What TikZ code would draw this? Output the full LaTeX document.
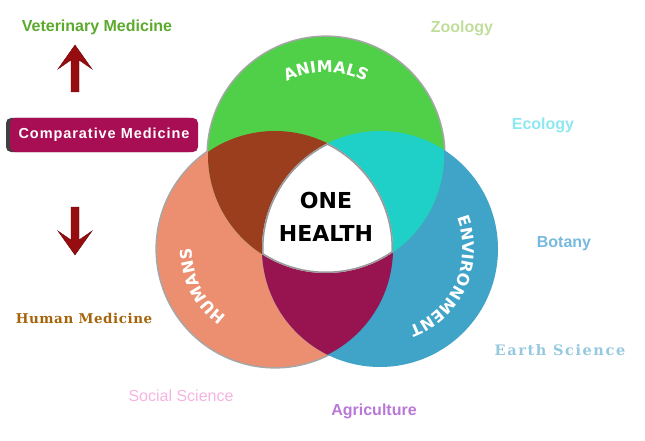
\documentclass[tikz,border=0pt]{standalone}
\usepackage{fontspec}
\setmainfont{Liberation Sans}
\newfontfamily\openS{DejaVu Sans}
\newfontfamily\serifD{DejaVu Serif}
\usetikzlibrary{decorations.text}
\definecolor{ani}{RGB}{80,208,72}
\definecolor{hum}{RGB}{235,143,112}
\definecolor{env}{RGB}{64,163,200}
\definecolor{ah}{RGB}{155,62,30}
\definecolor{ae}{RGB}{30,208,200}
\definecolor{he}{RGB}{152,20,80}
\definecolor{crim}{RGB}{168,14,84}
\definecolor{arrowred}{RGB}{150,12,15}
\definecolor{vetc}{RGB}{92,170,45}
\definecolor{zooc}{RGB}{192,222,155}
\definecolor{ecoc}{RGB}{140,232,240}
\definecolor{botc}{RGB}{120,185,222}
\definecolor{earc}{RGB}{150,200,222}
\definecolor{socc}{RGB}{245,180,225}
\definecolor{agrc}{RGB}{185,120,215}
\definecolor{hmc}{RGB}{165,100,10}
\tikzset{
  lbl/.style={anchor=base, inner sep=0pt, font=\fontsize{16}{16}\selectfont\bfseries},
  slbl/.style={anchor=base, inner sep=0pt, font=\serifD\bfseries\fontsize{14}{14}\selectfont},
  bigtxt/.style={anchor=base, inner sep=0pt, font=\openS\bfseries\fontsize{22}{22}\selectfont},
  arrowshape/.style={fill=arrowred, draw=arrowred!70!black, line width=0.4pt},
  circtext/.style={decorate, decoration={text along path, text color=white, text align=center,
     text={|\openS\bfseries\fontsize{16}{16}\selectfont|#1}}}
}
\begin{document}
\begin{tikzpicture}[x=1pt,y=1pt]
\useasboundingbox (0,0) rectangle (645,440);
\def\R{118}
\coordinate (A) at (326,285);
\coordinate (H) at (275,191);
\coordinate (E) at (380,191);
% shadows
\fill[black!35] (H) circle (\R+1.6);
\fill[black!35] (A) circle (\R+1.6);
% circles
\fill[hum] (H) circle (\R);
\fill[env] (E) circle (\R);
\fill[ani] (A) circle (\R);
\begin{scope}
  \clip (A) circle (\R);
  \fill[ah] (H) circle (\R);
  \fill[ae] (E) circle (\R);
\end{scope}
\begin{scope}
  \clip (H) circle (\R);
  \fill[he] (E) circle (\R);
  \clip (E) circle (\R);
  \clip (A) circle (\R);
  \fill[white] (A) circle (\R);
  \draw[black!40, line width=3pt] (A) circle (\R) (H) circle (\R) (E) circle (\R);
\end{scope}
% curved labels
\path[circtext=ANIMALS] (A) ++(150:83) arc[start angle=150, end angle=30, radius=83];
\path[circtext=HUMANS] (H) ++(262:83) arc[start angle=262, end angle=152, radius=83];
\path[circtext=ENVIRONMENT] (E) ++(38:83) arc[start angle=38, end angle=-86, radius=83];
% center
\node[bigtxt] (one) at (326,231.7) {ONE};
\node[bigtxt] (health) at (326,198.3) {HEALTH};
% left column
\node[lbl, text=vetc] (vet) at (97,408) {Veterinary Medicine};
\fill[arrowshape] (75,395) -- (92,371) -- (79,380) -- (79,348) -- (71,348) -- (71,380) -- (58,371) -- cycle;
\fill[black!75, rounded corners=5pt] (6,288) rectangle (194,322);
\node[fill=crim, rounded corners=5pt, minimum width=188pt, minimum height=34pt, inner sep=0pt,
      text=white, font=\bfseries\fontsize{14.5}{14.5}\selectfont\addfontfeatures{LetterSpace=6.5}] (cm) at (104,305) {Comparative Medicine};
\fill[arrowshape] (75,185) -- (92,209) -- (79,200) -- (79,233) -- (71,233) -- (71,200) -- (58,209) -- cycle;
\node[slbl, text=hmc, font=\serifD\bfseries\fontsize{13.5}{13.5}\selectfont\addfontfeatures{LetterSpace=4}] (hm) at (84,116.7) {Human Medicine};
\node[lbl, text=socc, font=\fontsize{16}{16}\selectfont] (soc) at (181,38.3) {Social Science};
\node[lbl, text=agrc] (agr) at (374,24.3) {Agriculture};
% right column
\node[lbl, text=zooc] (zoo) at (462,407.3) {Zoology};
\node[lbl, text=ecoc] (eco) at (543,311) {Ecology};
\node[lbl, text=botc] (bot) at (564,193) {Botany};
\node[slbl, text=earc, font=\serifD\bfseries\fontsize{14.5}{14.5}\selectfont\addfontfeatures{LetterSpace=11}] (ear) at (560,85) {Earth Science};
\end{tikzpicture}
\end{document}
